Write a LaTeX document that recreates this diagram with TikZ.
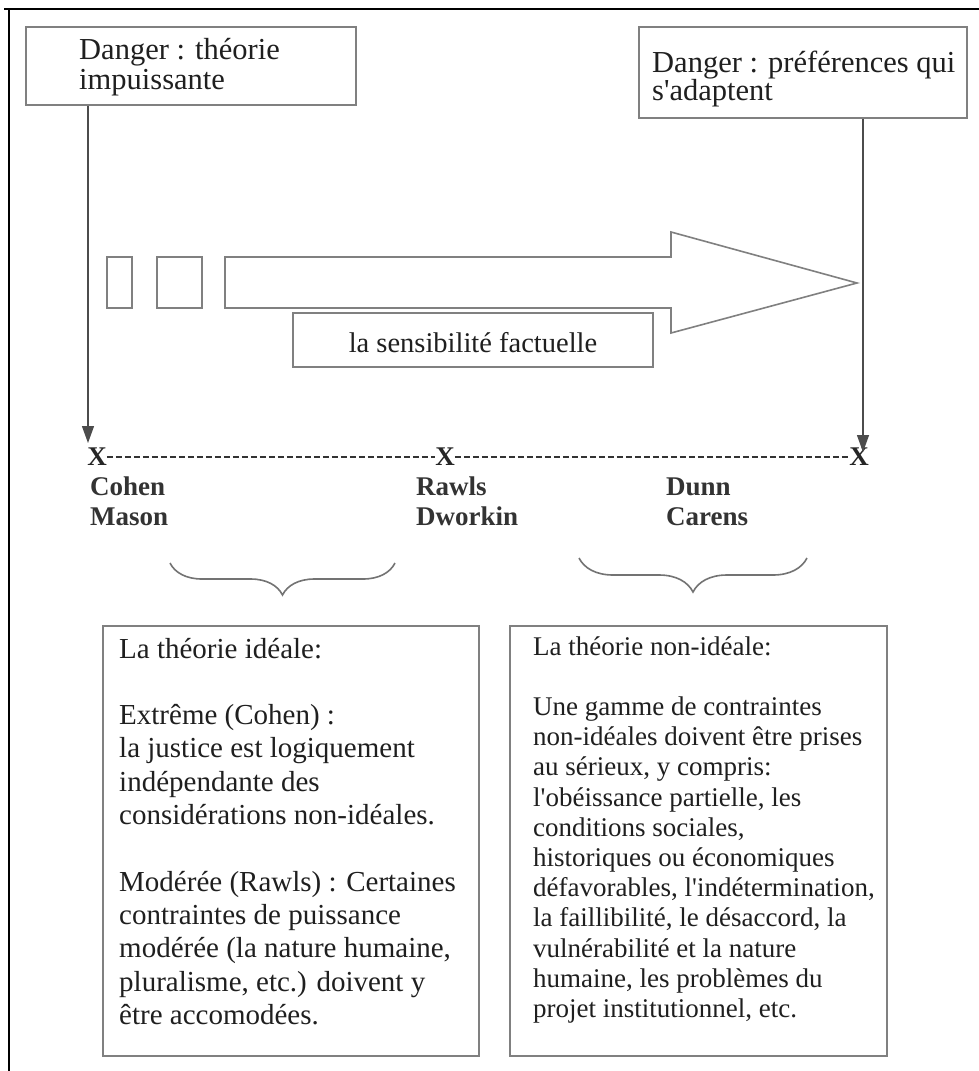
\documentclass[tikz,border=0pt]{standalone}
\usepackage{fontspec}
\setmainfont{Liberation Serif}[Ligatures=TeXOff]
\usetikzlibrary{decorations.pathreplacing,arrows.meta}
\newcommand{\txtlines}[4]{\vtop{\hsize=#1\relax\fontsize{#2}{#3}\selectfont\parindent=0pt\raggedright\leavevmode #4\par}}
\begin{document}
\begin{tikzpicture}[x=1pt,y=-1pt,
  boxframe/.style={draw=black!50, line width=1.8pt, inner sep=0pt},
  txt/.style={anchor=base west, inner sep=0pt, text=black!88},
  arr/.style={draw=black!70, line width=1.3pt, -{Triangle[length=17pt,width=12pt]}},
  brc/.style={draw=black!55, line width=1.6pt, decorate, decoration={brace, mirror, amplitude=#1}},
  xmark/.style={inner sep=0pt, font=\bfseries\fontsize{27}{27}\selectfont, text=black!85},
  namelbl/.style={anchor=base west, inner sep=0pt, text=black!80},
  dashline/.style={draw=black!80, line width=2.6pt, dash pattern=on 6pt off 3pt},
  bigarrow/.style={draw=black!50, line width=1.6pt}
]
\useasboundingbox (0,0) rectangle (979,1071);
\fill[white] (0,0) rectangle (979,1071);
% outer frame (cropped)
\draw[line width=1.2pt] (4,9) -- (979,9);
\draw[line width=1.2pt] (9,9) -- (9,1071);

% top danger boxes
\node[boxframe, minimum width=330pt, minimum height=78pt] (b1) at (191,66) {};
\node[txt] (t1) at (79,59) {\txtlines{300pt}{30.5}{30}{Danger : théorie\\impuissante}};
\node[boxframe, minimum width=328pt, minimum height=91pt] (b2) at (803,72.5) {};
\node[txt] (t2) at (652,72) {\txtlines{320pt}{30.5}{28}{Danger : préférences qui\\s'adaptent}};

% big arrow and small rectangles
\draw[bigarrow] (107,257) rectangle (132,308);
\draw[bigarrow] (157,257) rectangle (202,308);
\draw[bigarrow] (225,257) -- (671,257) -- (671,232) -- (857,283) -- (671,333) -- (671,308) -- (225,308) -- cycle;
\node[boxframe, fill=white, minimum width=360pt, minimum height=54pt, text height=24pt, text depth=0pt,
      font=\fontsize{28.5}{30}\selectfont, text=black!88] (sens) at (473,340) {la sensibilité factuelle};

% X marks and dashed line
\node[xmark] (xl) at (97,457) {X};
\node[xmark] (xm) at (445,457) {X};
\node[xmark] (xr) at (859,457) {X};
\draw[dashline] (xl) -- (xm);
\draw[dashline] (xm) -- (xr);

% vertical arrows
\coordinate (lt) at (88,443);
\draw[arr] (b1.south -| lt) -- (lt);
\coordinate (rt) at (863,452);
\draw[arr] (b2.south -| rt) -- (rt);

% names
\node[namelbl] (n1) at (90,495) {\txtlines{150pt}{27}{30}{\bfseries Cohen\\Mason}};
\node[namelbl] (n2) at (416,495) {\txtlines{150pt}{27}{30}{\bfseries Rawls\\Dworkin}};
\node[namelbl] (n3) at (666,495) {\txtlines{150pt}{27}{30}{\bfseries Dunn\\Carens}};

% braces
\draw[brc=32pt] (170,563) -- (395,563);
\draw[brc=34pt] (579,558) -- (807,558);

% bottom boxes
\node[boxframe, minimum width=376pt, minimum height=430pt] (b3) at (291,841) {};
\node[txt] (t3) at (119,658) {\txtlines{355pt}{29}{33.3}{La théorie idéale:\\\mbox{}\\Extrême (Cohen) :\\la justice est logiquement\\indépendante des\\considérations non-idéales.\\\mbox{}\\Modérée (Rawls) : Certaines\\contraintes de puissance\\modérée (la nature humaine,\\pluralisme, etc.) doivent y\\être accomodées.}};
\node[boxframe, minimum width=377pt, minimum height=430pt] (b4) at (698.5,841) {};
\node[txt] (t4) at (533,655) {\txtlines{350pt}{27}{30.2}{La théorie non-idéale:\\\mbox{}\\Une gamme de contraintes\\non-idéales doivent être prises\\au sérieux, y compris:\\l'obéissance partielle, les\\conditions sociales,\\historiques ou économiques\\défavorables, l'indétermination,\\la faillibilité, le désaccord, la\\vulnérabilité et la nature\\humaine, les problèmes du\\projet institutionnel, etc.}};
\end{tikzpicture}
\end{document}
